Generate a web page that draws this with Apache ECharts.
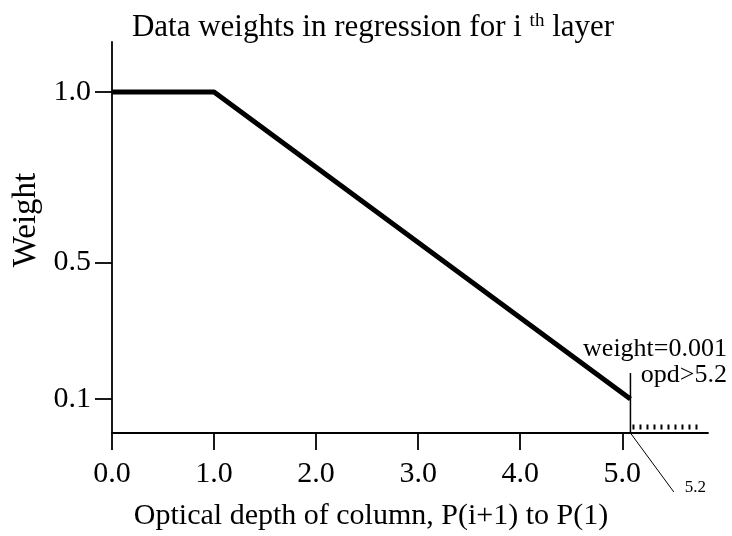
<!DOCTYPE html>
<html><head><meta charset="utf-8">
<script src="https://cdn.jsdelivr.net/npm/echarts@6/dist/echarts.min.js"></script>
<style>html,body{margin:0;padding:0;background:#fff}#c{width:732px;height:536px}</style>
</head><body><div id="c"></div>
<script>
const xTicks = [0, 1, 2, 3, 4, 5];
const yTicks = [0.1, 0.5, 1.0];
const weightX = [0, 1.0, 5.08];
const weightY = [1.0, 1.0, 0.1];
const cutoffX = [5.08, 5.08];
const cutoffY = [0, 0.176];
const leaderX = [5.08, 5.505];
const leaderY = [0, -0.173];
const tailX = [5.10, 5.74];
const tailY = [0.0176, 0.0176];
const F = '"Liberation Serif", "DejaVu Serif", serif';
const zip = (a, b) => a.map((v, i) => [v, b[i]]);
const chart = echarts.init(document.getElementById('c'));
chart.setOption({
  animation: false,
  backgroundColor: '#fff',
  title: {
    text: '{n|Data weights in regression for i }{s|th}{n| layer}',
    left: 368, top: 7, textAlign: 'center',
    textStyle: { fontWeight: 'normal', rich: {
      n: { fontFamily: F, fontSize: 31, lineHeight: 31, fontWeight: 'normal', color: '#000' },
      s: { fontFamily: F, fontSize: 19, lineHeight: 24, fontWeight: 'normal', color: '#000', verticalAlign: 'top' }
    } }
  },
  grid: { left: 112, right: 24, top: 42, bottom: 103 },
  xAxis: {
    type: 'value', min: 0, max: 5.84,
    name: 'Optical depth of column, P(i+1) to P(1)', nameLocation: 'middle', nameGap: 68,
    nameTextStyle: { fontFamily: F, fontSize: 30, color: '#000', padding: [0, 78, 0, 0] },
    axisLine: { show: true, onZero: false, lineStyle: { color: '#000', width: 1.8 } },
    axisTick: { show: true, length: 17, lineStyle: { color: '#000', width: 1.8 }, customValues: xTicks },
    axisLabel: { fontFamily: F, fontSize: 30, color: '#000', margin: 26, customValues: xTicks, formatter: v => v.toFixed(1) },
    splitLine: { show: false }
  },
  yAxis: {
    type: 'value', min: 0, max: 1.147,
    name: 'Weight', nameLocation: 'middle', nameGap: 68, nameRotate: 90,
    nameTextStyle: { fontFamily: F, fontSize: 33, color: '#000', padding: [0, 0, 0, 35] },
    axisLine: { show: true, onZero: false, lineStyle: { color: '#000', width: 1.8 } },
    axisTick: { show: true, length: 17, lineStyle: { color: '#000', width: 1.8 }, customValues: yTicks },
    axisLabel: { fontFamily: F, fontSize: 30, color: '#000', margin: 21, customValues: yTicks, formatter: v => v.toFixed(1) },
    splitLine: { show: false }
  },
  series: [
    { type: 'line', data: zip(weightX, weightY), symbol: 'none', lineStyle: { color: '#000', width: 5 }, z: 5 },
    { type: 'line', data: zip(cutoffX, cutoffY), symbol: 'none', lineStyle: { color: '#000', width: 1.5 } },
    { type: 'line', data: zip(leaderX, leaderY), symbol: 'none', clip: false, lineStyle: { color: '#000', width: 1 },
      endLabel: { show: true, formatter: '5.2', fontFamily: F, fontSize: 17, color: '#000', offset: [3, -4] } },
    { type: 'line', data: zip(tailX, tailY), symbol: 'none', lineStyle: { color: '#000', width: 5, type: [2, 5] } }
  ],
  graphic: [
    { type: 'text', right: 5, top: 336, style: { text: 'weight=0.001', font: '26px ' + F, fill: '#000' } },
    { type: 'text', right: 5, top: 362, style: { text: 'opd>5.2', font: '26px ' + F, fill: '#000' } }
  ]
});
</script></body></html>
